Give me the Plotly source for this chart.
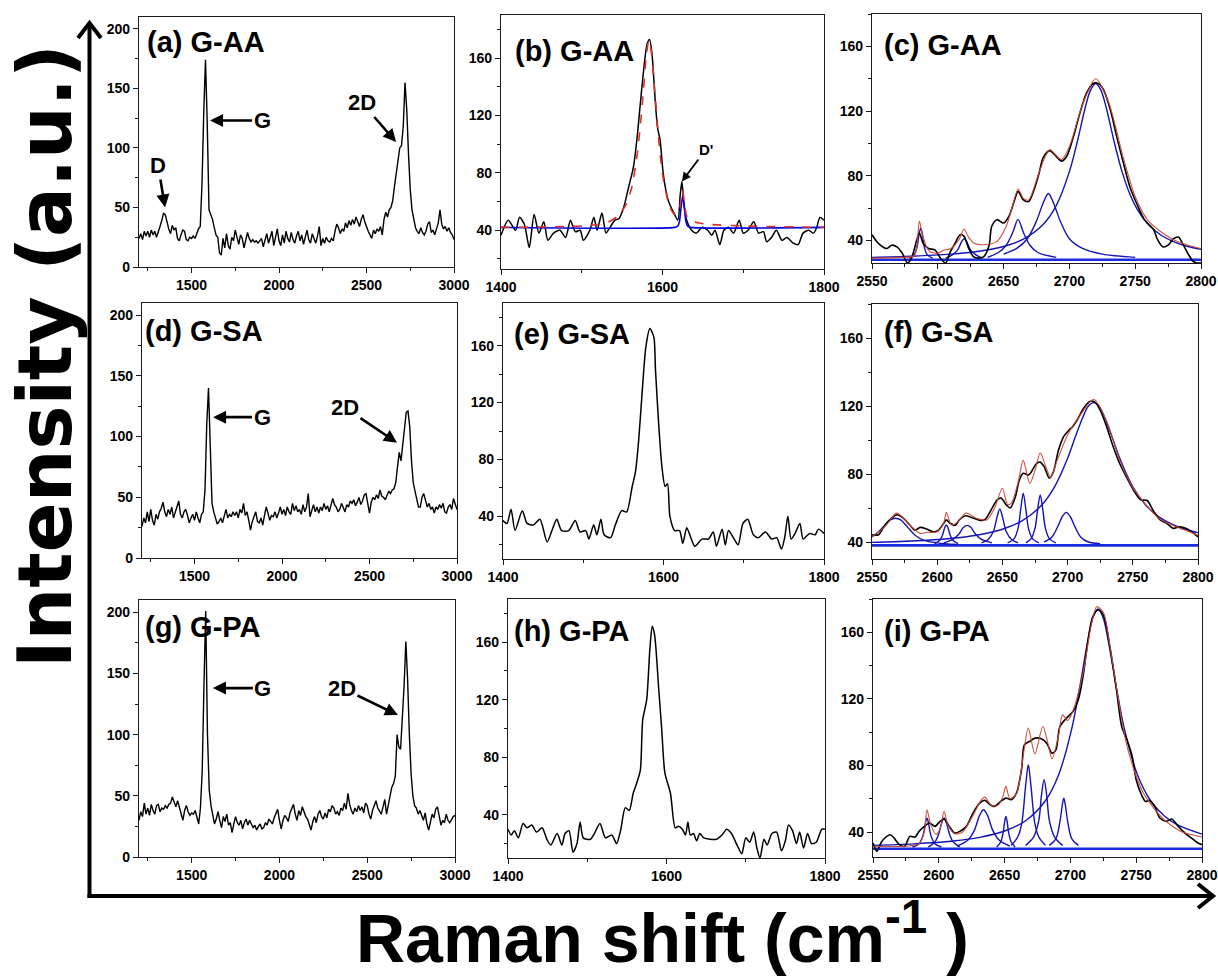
import plotly.graph_objects as go

# ------------------------------------------------------------------ data
# full-range spectra (a), (d), (g): sampled every 10 cm-1 from 1200 to 3000
wide_x = list(range(1200, 3001, 10))
a_y = [24, 28, 23, 30, 26, 30, 25, 31, 27, 30,
       25, 29, 34, 39, 45, 44, 37, 32, 28, 35,
       31, 33, 24, 22, 27, 31, 30, 23, 22, 25,
       24, 26, 24, 29, 32, 34, 70, 130, 174, 120,
       48, 44, 40, 33, 27, 25, 12, 10, 24, 16,
       28, 18, 15, 25, 22, 31, 24, 19, 27, 24,
       16, 22, 29, 24, 21, 23, 21, 22, 20, 22,
       24, 17, 23, 28, 20, 26, 30, 18, 25, 32,
       22, 18, 27, 20, 30, 24, 21, 29, 23, 20,
       26, 30, 22, 27, 19, 25, 31, 23, 20, 28,
       24, 20, 26, 34, 18, 24, 20, 25, 22, 21,
       24, 22, 30, 36, 33, 28, 32, 30, 37, 33,
       39, 35, 40, 36, 42, 38, 34, 40, 44, 38,
       33, 30, 27, 24, 31, 28, 32, 30, 34, 27,
       40, 46, 42, 48, 50, 56, 68, 80, 92, 100,
       102, 118, 155, 132, 95, 65, 48, 40, 33, 30,
       28, 33, 29, 27, 30, 36, 38, 29, 31, 27,
       33, 37, 48, 36, 32, 34, 30, 33, 29, 27,
       23]
d_y = [26, 33, 29, 38, 30, 40, 31, 27, 36, 32,
       38, 41, 46, 38, 34, 40, 36, 42, 33, 38,
       43, 47, 36, 33, 38, 40, 35, 29, 33, 36,
       31, 38, 33, 29, 36, 38, 56, 110, 140, 80,
       45, 38, 33, 28, 30, 33, 29, 35, 40, 33,
       36, 34, 38, 35, 38, 33, 40, 37, 45, 35,
       38, 31, 23, 30, 34, 38, 30, 29, 33, 27,
       35, 42, 37, 31, 35, 34, 38, 33, 37, 42,
       36, 40, 35, 42, 38, 36, 45, 39, 43, 38,
       40, 36, 44, 38, 42, 53, 34, 40, 44, 38,
       42, 37, 42, 39, 45, 40, 43, 38, 45, 49,
       44, 42, 38, 40, 45, 41, 38, 44, 42, 47,
       45, 48, 43, 46, 50, 44, 47, 52, 53, 45,
       37, 46, 50, 48, 52, 49, 56, 51, 50, 48,
       52, 55, 53, 56, 57, 62, 75, 87, 80, 92,
       108, 120, 121, 108, 80, 62, 55, 48, 42, 42,
       50, 53, 46, 42, 45, 40, 42, 37, 42, 40,
       44, 41, 45, 38, 37, 42, 44, 40, 49, 45,
       40]
g_y = [30, 37, 33, 44, 35, 40, 34, 43, 38, 35,
       42, 43, 37, 40, 39, 42, 40, 43, 44, 49,
       45, 41, 46, 40, 36, 30, 38, 42, 37, 34,
       36, 35, 38, 33, 27, 40, 70, 140, 201, 100,
       55, 42, 35, 27, 31, 37, 30, 24, 33, 29,
       35, 26, 28, 20, 27, 33, 28, 26, 30, 23,
       28, 31, 26, 30, 27, 24, 26, 22, 25, 27,
       23, 24, 28, 26, 31, 29, 27, 32, 36, 39,
       30, 23, 30, 34, 32, 29, 36, 40, 43, 35,
       30, 38, 34, 41, 37, 33, 31, 27, 22, 29,
       33, 28, 35, 38, 33, 31, 36, 32, 39, 37,
       42, 40, 35, 37, 34, 40, 38, 44, 39, 52,
       43, 38, 35, 40, 37, 42, 38, 41, 36, 44,
       42, 35, 31, 38, 42, 46, 40, 37, 35, 41,
       47, 35, 43, 52, 57, 60, 66, 100, 90, 88,
       112, 140, 176, 145, 100, 68, 50, 42, 40, 35,
       38, 34, 30, 36, 27, 22, 30, 35, 32, 39,
       41, 33, 26, 30, 28, 35, 30, 28, 31, 33,
       34]

# G band region (b), (e), (h)
b_x = [1400, 1409, 1418, 1423, 1429, 1435, 1441, 1447, 1453, 1458,
       1465, 1473, 1480, 1486, 1492, 1498, 1502, 1510, 1515, 1519,
       1525, 1530, 1535, 1541, 1546, 1552, 1558, 1564, 1569, 1574,
       1581, 1584, 1587, 1591, 1594, 1597, 1601, 1607, 1614, 1619,
       1622, 1624, 1626, 1630, 1636, 1642, 1649, 1656, 1661, 1665,
       1671, 1676, 1682, 1688, 1695, 1700, 1706, 1713, 1719, 1725,
       1729, 1735, 1741, 1748, 1754, 1762, 1768, 1774, 1781, 1787,
       1791, 1795, 1800]
b_y = [36.5, 47, 40, 49, 44, 28, 51, 38, 46, 33,
       38, 40, 35, 47, 39, 40, 33, 40, 49, 40,
       52, 38, 42, 47, 48, 56, 70, 84, 107, 137,
       170, 173, 163, 130, 111, 103, 79, 61, 52, 47,
       65, 74, 61, 47, 40, 38, 42, 40, 36.5, 40,
       30, 40, 42, 38, 47, 38, 40, 46, 38, 39,
       32, 35, 40, 33, 35, 31, 30, 38, 40, 38,
       42, 49, 47]
b_fit_x = [1400, 1500, 1530, 1545, 1555, 1562, 1568, 1572, 1576, 1580,
           1583, 1586, 1590, 1594, 1598, 1602, 1606, 1610, 1615, 1620,
           1622, 1624, 1625, 1627, 1630, 1635, 1645, 1660, 1700, 1800]
b_fit_y = [42, 43, 45, 50, 58, 70, 90, 110, 135, 162,
           172, 165, 140, 112, 88, 72, 62, 55, 51, 52,
           58, 66, 68, 60, 50, 47, 45, 44, 43, 42]
b_dp_x = [1400, 1615, 1619, 1621, 1623, 1625, 1627, 1629, 1631, 1635, 1800]
b_dp_y = [42, 42, 43, 46, 56, 64, 56, 46, 43, 42, 42]

e_x = [1400, 1405, 1410, 1415, 1424, 1430, 1438, 1446, 1455, 1461,
       1467, 1473, 1482, 1490, 1496, 1503, 1507, 1513, 1517, 1522,
       1526, 1534, 1540, 1548, 1554, 1561, 1565, 1569, 1573, 1578,
       1583, 1588, 1590, 1594, 1598, 1602, 1605, 1608, 1614, 1620,
       1624, 1629, 1634, 1639, 1648, 1656, 1662, 1666, 1673, 1677,
       1681, 1687, 1693, 1699, 1705, 1712, 1718, 1727, 1735, 1741,
       1747, 1751, 1755, 1759, 1764, 1770, 1774, 1782, 1789, 1793,
       1800]
e_y = [37, 35, 45, 30, 44, 35, 34, 38, 22, 30,
       38, 30, 30, 37, 29, 30, 24, 34, 27, 38,
       27, 25, 34, 44, 43, 61, 71, 93, 124, 159,
       172, 166, 143, 105, 75, 61, 63, 40, 30, 30,
       21, 32, 25, 19, 24, 24, 29, 19, 31, 20,
       30, 25, 20, 35, 38, 27, 25, 29, 24, 25,
       17, 25, 40, 24, 28, 35, 24, 28, 27, 31,
       28]

h_x = [1400, 1404, 1408, 1413, 1419, 1424, 1430, 1436, 1443, 1449,
       1454, 1462, 1468, 1472, 1477, 1482, 1487, 1491, 1495, 1504,
       1509, 1516, 1523, 1531, 1537, 1542, 1548, 1553, 1558, 1563,
       1567, 1570, 1575, 1579, 1582, 1585, 1590, 1594, 1598, 1605,
       1611, 1615, 1620, 1624, 1627, 1630, 1634, 1638, 1642, 1647,
       1655, 1663, 1670, 1676, 1682, 1689, 1695, 1700, 1705, 1710,
       1714, 1718, 1723, 1727, 1733, 1739, 1745, 1750, 1754, 1759,
       1764, 1768, 1773, 1778, 1783, 1789, 1796, 1800]
h_y = [30, 26, 29, 24, 34, 31, 33, 28, 31, 23,
       19, 27, 19, 27, 29, 14, 20, 35, 24, 23,
       27, 34, 24, 26, 20, 29, 45, 43, 55, 63,
       71, 106, 120, 155, 171, 165, 129, 99, 69, 55,
       31, 32, 30, 26, 35, 26, 27, 22, 27, 24,
       23, 23, 26, 30, 27, 19, 13, 24, 21, 28,
       17, 10, 23, 19, 27, 28, 15, 22, 33, 29,
       20, 28, 17, 27, 20, 21, 30, 30]

# 2D band region (c): measured, cumulative fit, fitted components
c_x = [2550, 2555, 2561, 2565, 2569, 2573, 2577, 2580, 2584, 2586,
       2589, 2593, 2598, 2602, 2606, 2609, 2613, 2617, 2620, 2623,
       2627, 2631, 2635, 2639, 2641, 2645, 2650, 2654, 2658, 2661,
       2665, 2669, 2673, 2677, 2680, 2685, 2690, 2694, 2698, 2703,
       2708, 2713, 2718, 2722, 2726, 2731, 2736, 2741, 2746, 2751,
       2757, 2764, 2767, 2771, 2775, 2779, 2783, 2786, 2790, 2794,
       2797, 2800]
c_y = [43.5, 38, 35, 37, 36, 32, 26, 29, 40, 44.5,
       38, 35, 34, 29, 26, 32, 38, 43.5, 42.5, 36,
       30, 29, 30, 37, 48.7, 52.8, 50.7, 54.8, 64, 70.3,
       65, 64, 71, 81.7, 91, 95.5, 92, 89, 92, 104,
       118.8, 131, 137, 137, 133, 121, 104, 88, 73, 63,
       52.8, 46.6, 40.4, 36, 37, 41, 42, 38, 32, 27,
       26, 26]
c_fit_x = [2550, 2570, 2582, 2584, 2586, 2588, 2592, 2594, 2600, 2604,
           2610, 2616, 2620, 2623, 2628, 2635, 2645, 2652, 2657, 2661,
           2665, 2669, 2677, 2685, 2694, 2700, 2710, 2720, 2730, 2740,
           2750, 2760, 2770, 2780, 2790, 2800]
c_fit_y = [29, 29.5, 30.5, 36, 52, 44.5, 35, 33, 32, 33.8,
           35, 40.4, 47, 42.5, 38, 37.3, 39.4, 48.7, 62, 71.8,
           66, 65, 82, 96, 90, 98, 124, 140, 125, 94,
           67, 52, 45, 40, 37, 35]
c_base = 28
c_comps = [
    ([2578, 2582, 2584, 2586, 2587, 2588, 2590, 2592, 2596],
     [29, 31, 35, 45, 47.6, 45, 35, 31, 29]),
    ([2606, 2611, 2615, 2618, 2620, 2622, 2625, 2629, 2634],
     [29, 31, 34, 39, 41, 39, 34, 31, 29]),
    ([2638, 2646, 2652, 2657, 2661, 2665, 2670, 2676, 2690],
     [29.5, 32.5, 37, 45, 53, 45, 37, 32.5, 29.5]),
    ([2650, 2660, 2668, 2675, 2680, 2684, 2688, 2693, 2700, 2710, 2725, 2750],
     [31.5, 35, 41, 52, 63, 69, 63, 52, 41, 35, 31.5, 29.5]),
    ([2550, 2580, 2610, 2630, 2650, 2665, 2680, 2690, 2700, 2706, 2712, 2716,
      2720, 2724, 2728, 2734, 2740, 2746, 2752, 2760, 2770, 2780, 2790, 2800],
     [29.5, 30.2, 31.5, 33.1, 36.2, 40.7, 49.8, 61.5, 82.5, 101, 122, 132.8,
      137, 132.8, 122, 101, 82.5, 68.5, 58.6, 49.8, 43, 38.9, 36.2, 34.4]),
]

# 2D band region (f)
f_x = [2550, 2555, 2560, 2565, 2569, 2574, 2579, 2583, 2587, 2592,
       2597, 2601, 2605, 2607, 2610, 2614, 2617, 2622, 2628, 2633,
       2637, 2640, 2646, 2649, 2653, 2656, 2660, 2663, 2666, 2670,
       2672, 2676, 2679, 2682, 2686, 2689, 2693, 2697, 2701, 2704,
       2708, 2712, 2717, 2721, 2725, 2730, 2735, 2740, 2745, 2752,
       2756, 2761, 2766, 2771, 2776, 2781, 2786, 2791, 2797, 2800]
f_y = [44.3, 44.3, 50, 54, 56, 54, 50, 47, 48.6, 47.6,
       46, 47, 51, 53, 51, 49.8, 53, 55.4, 54, 52.7,
       53.5, 57, 64.8, 65.8, 61.8, 60, 66.7, 76.5, 80.4, 79.4,
       81, 86, 87, 84.3, 77.5, 81, 94, 102, 105.7, 108,
       112.6, 118.4, 122.7, 122.3, 117.5, 107.7, 96, 86, 78.4, 68.7,
       64.8, 64.4, 58, 53, 51, 48, 49, 48, 45, 43]
f_fit_x = [2550, 2560, 2569, 2579, 2587, 2592, 2600, 2605, 2607, 2611,
           2616, 2622, 2630, 2638, 2644, 2650, 2654, 2657, 2662, 2666,
           2671, 2675, 2679, 2683, 2687, 2692, 2700, 2710, 2720, 2730,
           2740, 2750, 2760, 2770, 2780, 2790, 2800]
f_fit_y = [43, 49, 57, 50, 45, 45.7, 46, 51, 57.4, 50,
           52, 57, 54, 53, 60, 71.6, 62, 63, 75, 88,
           74.5, 82, 92.5, 85, 78, 88, 103, 115, 124, 111,
           88, 72, 62, 54, 50, 47, 44]
f_base = 38
f_comps = [
    ([2550, 2555, 2560, 2564, 2568, 2572, 2577, 2583, 2590, 2600, 2615],
     [43, 46, 50, 53, 54, 53, 49, 44, 41, 39.5, 38.5]),
    ([2598, 2602, 2604, 2606, 2607, 2608, 2610, 2612, 2616],
     [39, 41, 44, 49, 50, 49, 44, 41, 39]),
    ([2605, 2612, 2617, 2620, 2623, 2626, 2629, 2634, 2642],
     [39.5, 41.5, 45, 48.5, 49.8, 48.5, 45, 41.5, 39.5]),
    ([2634, 2639, 2643, 2646, 2648, 2650, 2653, 2657, 2662],
     [39.5, 41.5, 46, 55, 59.5, 55, 46, 41.5, 39.5]),
    ([2654, 2659, 2662, 2664, 2666, 2668, 2670, 2673, 2678],
     [39.5, 42, 48, 59, 68.7, 59, 48, 42, 39.5]),
    ([2668, 2672, 2675, 2677, 2679, 2681, 2683, 2686, 2691],
     [39.5, 42, 48, 59, 67.7, 59, 48, 42, 39.5]),
    ([2682, 2688, 2693, 2696, 2699, 2702, 2705, 2710, 2716, 2725],
     [40, 43, 50, 55, 57.4, 55, 50, 43, 40, 39]),
    ([2550, 2580, 2610, 2630, 2650, 2665, 2680, 2690, 2700, 2706, 2712, 2716,
      2720, 2724, 2728, 2734, 2740, 2750, 2760, 2770, 2780, 2790, 2800],
     [39.8, 40.6, 42.1, 44, 47.5, 52.4, 61.6, 72.4, 89.2, 102, 114, 120,
      122, 120, 114, 102, 89.2, 72.4, 61.6, 54.8, 50.5, 47.5, 45.5]),
]

# 2D band region (i)
i_x = [2550, 2553, 2556, 2559, 2563, 2566, 2570, 2574, 2578, 2582,
       2585, 2589, 2593, 2597, 2601, 2604, 2608, 2612, 2616, 2621,
       2626, 2631, 2635, 2639, 2642, 2648, 2651, 2655, 2659, 2663,
       2665, 2669, 2673, 2678, 2682, 2686, 2689, 2692, 2697, 2702,
       2706, 2710, 2713, 2717, 2721, 2725, 2730, 2735, 2739, 2743,
       2747, 2750, 2754, 2757, 2760, 2764, 2768, 2773, 2777, 2782,
       2787, 2792, 2797, 2800]
i_y = [33.4, 28.4, 33.4, 36.4, 38.4, 36.4, 32.4, 31.4, 37.4, 37,
       40.4, 43.4, 45.4, 43.4, 46.4, 47.8, 43.4, 39.4, 40.4, 43.4,
       51.4, 57.4, 59, 56.4, 55.4, 59, 60.4, 59.4, 63.4, 78.4,
       92.4, 94.4, 96.4, 96, 93.4, 87.4, 89.4, 103.4, 108.4, 112.4,
       119.4, 135.4, 153.4, 169.4, 173.4, 170.4, 151.4, 125.4, 103.4, 95.4,
       85.4, 71.4, 62.4, 58.4, 59, 55.4, 48.4, 46.4, 47.8, 43.4,
       39.4, 36.4, 33.4, 32.4]
i_fit_x = [2550, 2575, 2585, 2589, 2591, 2594, 2598, 2601, 2604, 2607,
           2612, 2618, 2626, 2632, 2635, 2640, 2645, 2649, 2651, 2654,
           2659, 2664, 2668, 2673, 2679, 2683, 2686, 2691, 2694, 2698,
           2702, 2710, 2716, 2720, 2725, 2730, 2736, 2742, 2748, 2755,
           2760, 2768, 2775, 2785, 2800]
i_fit_y = [31.5, 31.5, 33, 40, 53.4, 44, 38.6, 42, 52.4, 44,
           39, 40, 50, 59, 61, 56, 56, 62, 67.4, 60,
           63, 85, 102.4, 87, 103.4, 93, 84, 98, 110.4, 107,
           113, 137, 165, 175.4, 172, 152, 122, 95, 78, 64,
           58, 50, 45, 40, 37]
i_base = 30
i_comps = [
    ([2580, 2585, 2588, 2590, 2591, 2592, 2594, 2597, 2602],
     [31, 33, 38, 46, 48.4, 46, 38, 33, 31]),
    ([2592, 2597, 2600, 2602, 2604, 2606, 2608, 2611, 2616],
     [31, 34, 39, 45, 48.4, 45, 39, 34, 31]),
    ([2614, 2622, 2627, 2631, 2634, 2637, 2641, 2646, 2654],
     [31.5, 35, 41, 50, 53.4, 50, 41, 35, 31.5]),
    ([2644, 2647, 2649, 2650, 2651, 2652, 2653, 2655, 2658],
     [31, 34, 40, 46, 49.4, 46, 40, 34, 31]),
    ([2655, 2660, 2663, 2666, 2668, 2670, 2673, 2676, 2681],
     [32, 37, 45, 68, 80.4, 68, 45, 37, 32]),
    ([2666, 2672, 2676, 2678, 2680, 2682, 2684, 2688, 2694],
     [32, 37, 47, 62, 71.4, 62, 47, 37, 32]),
    ([2684, 2689, 2692, 2694, 2695, 2696, 2698, 2701, 2706],
     [32, 36, 46, 57, 60.4, 57, 46, 36, 32]),
    ([2550, 2581, 2611, 2631, 2651, 2666, 2681, 2691, 2701, 2707, 2713,
      2717, 2721, 2725, 2729, 2735, 2741, 2751, 2761, 2771, 2781, 2800],
     [32, 32.9, 34.6, 36.8, 40.9, 46.8, 58.8, 74.3, 102, 126.6, 154,
      168.5, 174, 168.5, 154, 126.6, 102, 74.3, 58.8, 49.9, 44.4, 38.7]),
]

panel_titles = ["(a) G-AA", "(b) G-AA", "(c) G-AA",
                "(d) G-SA", "(e) G-SA", "(f) G-SA",
                "(g) G-PA", "(h) G-PA", "(i) G-PA"]

# ------------------------------------------------------------------ layout helpers
W, H = 1218, 978


def px(p):
    return p / W


def py(p):
    return 1 - p / H


# pixel boxes of the nine plot areas: (left, right, top, bottom)
boxes = [(139, 454, 17, 267), (501, 824, 15, 269), (872, 1201, 14, 263),
         (142, 457, 303, 558), (503, 824, 303, 559), (872, 1198, 304, 559),
         (139, 455, 600, 857), (508, 825, 599, 858), (873, 1202, 599, 857)]
xranges = [[1200, 3000], [1400, 1800], [2550, 2800]] * 3
yranges = [[0, 210], [13, 190], [26, 180],
           [0, 210], [10, 190], [30, 180],
           [0, 210], [10, 190], [25, 180]]
xdt = [(500, 250), (200, 100), (50, 25)] * 3
ydt = [(50, 25), (40, 20), (40, 20)] * 3

BOLD = "Liberation Sans, Arial, sans-serif"
tickfont = dict(family=BOLD, size=14, color="black", weight="bold")

fig = go.Figure()
layout = dict(width=W, height=H,
              margin=dict(l=0, r=0, t=0, b=0, pad=0, autoexpand=False),
              paper_bgcolor="white", plot_bgcolor="white", showlegend=False)

for k in range(9):
    n = "" if k == 0 else str(k + 1)
    l, r, t, b = boxes[k]
    common = dict(showline=True, linecolor="#1a1a1a", linewidth=1.2, mirror=True,
                  ticks="outside", ticklen=5, tickwidth=1, tickcolor="#1a1a1a",
                  showgrid=False, zeroline=False, tickfont=tickfont, tick0=0,
                  automargin=False)
    layout["xaxis" + n] = dict(domain=[px(l), px(r)], range=xranges[k], anchor="y" + n,
                               dtick=xdt[k][0],
                               minor=dict(dtick=xdt[k][1], tick0=0, ticks="outside",
                                          ticklen=3, tickcolor="#1a1a1a"),
                               **common)
    layout["yaxis" + n] = dict(domain=[py(b), py(t)], range=yranges[k], anchor="x" + n,
                               dtick=ydt[k][0],
                               minor=dict(dtick=ydt[k][1], tick0=0, ticks="outside",
                                          ticklen=3, tickcolor="#1a1a1a"),
                               **common)
fig.update_layout(**layout)


def ax(k):
    n = "" if k == 0 else str(k + 1)
    return dict(xaxis="x" + n, yaxis="y" + n)


BLACK = dict(color="black", width=1.4)
BLUE = "#1414b4"
BASEBLUE = "#1a2ce0"
RED = "rgba(205,70,50,0.95)"

# (a), (d), (g)
for k, yy in [(0, a_y), (3, d_y), (6, g_y)]:
    fig.add_trace(go.Scatter(x=wide_x, y=yy, mode="lines", line=BLACK, **ax(k)))

# (b)
fig.add_trace(go.Scatter(x=b_x, y=b_y, mode="lines",
                         line=dict(color="black", width=1.5, shape="spline", smoothing=0.7), **ax(1)))
fig.add_trace(go.Scatter(x=b_dp_x, y=b_dp_y, mode="lines",
                         line=dict(color="#0000e6", width=1.6, shape="spline", smoothing=0.6), **ax(1)))
fig.add_trace(go.Scatter(x=b_fit_x, y=b_fit_y, mode="lines",
                         line=dict(color="#e0302a", width=1.6, dash="dash", shape="spline",
                                   smoothing=0.6), **ax(1)))
# (e), (h)
for k, xx, yy in [(4, e_x, e_y), (7, h_x, h_y)]:
    fig.add_trace(go.Scatter(x=xx, y=yy, mode="lines",
                             line=dict(color="black", width=1.5, shape="spline", smoothing=0.7),
                             **ax(k)))

# (c), (f), (i)
for k, base, comps, xx, yy, fx, fy in [
        (2, c_base, c_comps, c_x, c_y, c_fit_x, c_fit_y),
        (5, f_base, f_comps, f_x, f_y, f_fit_x, f_fit_y),
        (8, i_base, i_comps, i_x, i_y, i_fit_x, i_fit_y)]:
    fig.add_trace(go.Scatter(x=[2550, 2800], y=[base, base], mode="lines",
                             line=dict(color=BASEBLUE, width=2.6), **ax(k)))
    for cx, cy in comps:
        fig.add_trace(go.Scatter(x=cx, y=cy, mode="lines",
                                 line=dict(color=BLUE, width=1.4, shape="spline", smoothing=0.9),
                                 **ax(k)))
    fig.add_trace(go.Scatter(x=xx, y=yy, mode="lines",
                             line=dict(color="black", width=1.6, shape="spline", smoothing=0.8),
                             **ax(k)))
    fig.add_trace(go.Scatter(x=fx, y=fy, mode="lines",
                             line=dict(color=RED, width=1.1, shape="spline", smoothing=0.8),
                             **ax(k)))

annotations = []

# panel titles
title_pos = [(145, 42), (513, 51), (882, 45), (143, 331), (512, 334), (882, 332),
             (143, 627), (512, 631), (882, 631)]
for k, (tx, ty) in enumerate(title_pos):
    annotations.append(dict(text=panel_titles[k], x=px(tx), y=py(ty), xref="paper", yref="paper",
                            xanchor="left", yanchor="middle", showarrow=False,
                            font=dict(family=BOLD, size=29, color="black", weight="bold")))

# peak labels with arrows (head at data coords, label offset in pixels)
peak_labels = [
    (0, "D", 1349, 50, -7, -42),
    (0, "G", 1606, 123, 52, 0),
    (0, "2D", 2669, 105, -34, -39),
    (3, "G", 1606, 116, 49, 0),
    (3, "2D", 2657, 95, -52, -35),
    (6, "G", 1621, 138, 50, 0),
    (6, "2D", 2675, 116, -56, -27),
]
for k, label, hx, hy, dx, dy in peak_labels:
    n = "" if k == 0 else str(k + 1)
    annotations.append(dict(text=label, x=hx, y=hy, xref="x" + n, yref="y" + n,
                            ax=dx, ay=dy, showarrow=True, arrowhead=2, arrowsize=1,
                            arrowwidth=2.6, arrowcolor="black", standoff=0,
                            font=dict(family=BOLD, size=22, color="black", weight="bold")))
annotations.append(dict(text="D'", x=1624, y=74, xref="x2", yref="y2", ax=24, ay=-32,
                        showarrow=True, arrowhead=2, arrowsize=1, arrowwidth=1.8,
                        arrowcolor="black", standoff=0,
                        font=dict(family=BOLD, size=15, color="black", weight="bold")))

# big axis titles
annotations.append(dict(text="Intensity (a.u.)", x=0, y=py(356), xref="paper", yref="paper",
                        xanchor="left", yanchor="middle", textangle=-90, showarrow=False,
                        font=dict(family="DejaVu Sans", size=74, color="black", weight="bold")))
annotations.append(dict(text="Raman shift (cm<sup>-1</sup> )", x=px(662), y=0,
                        xref="paper", yref="paper", xanchor="center", yanchor="bottom",
                        showarrow=False,
                        font=dict(family=BOLD, size=68, color="black", weight="bold")))

# big axes arrows (lines + open chevron heads, paper coordinates)
AX_LINE = dict(color="black", width=4)
shapes = [
    dict(type="line", xref="paper", yref="paper", x0=px(89.5), y0=py(898), x1=px(89.5), y1=py(24),
         line=AX_LINE),
    dict(type="line", xref="paper", yref="paper", x0=px(87.5), y0=py(896), x1=px(1211), y1=py(896),
         line=AX_LINE),
    dict(type="path", xref="paper", yref="paper",
         path=f"M {px(78)},{py(38)} L {px(89.5)},{py(23)} L {px(101)},{py(38)}", line=AX_LINE),
    dict(type="path", xref="paper", yref="paper",
         path=f"M {px(1198)},{py(884)} L {px(1213)},{py(896)} L {px(1198)},{py(908)}", line=AX_LINE),
]

fig.update_layout(annotations=annotations, shapes=shapes)
fig.write_html("out.html")
